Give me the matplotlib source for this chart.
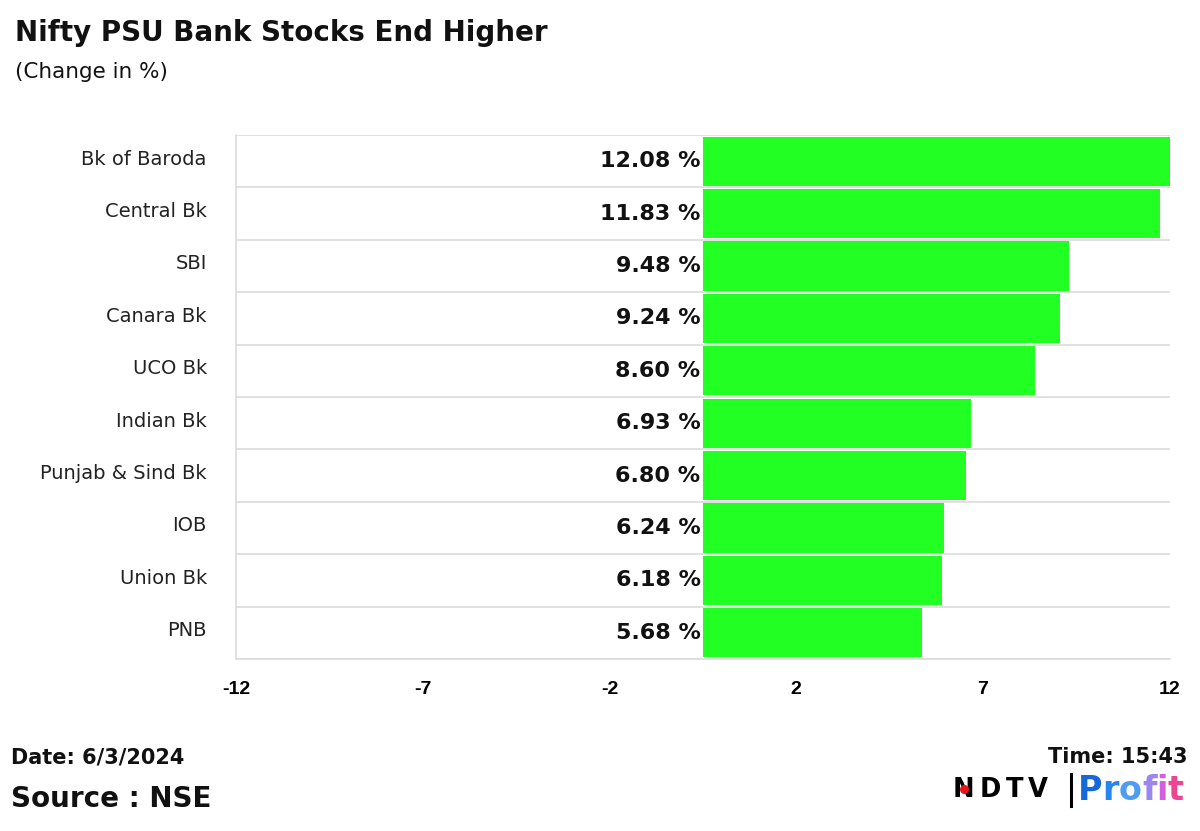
import matplotlib.pyplot as plt
import numpy as np
from matplotlib.transforms import ScaledTranslation

banks = ["Bk of Baroda", "Central Bk", "SBI", "Canara Bk", "UCO Bk",
         "Indian Bk", "Punjab & Sind Bk", "IOB", "Union Bk", "PNB"]
change = [12.08, 11.83, 9.48, 9.24, 8.60, 6.93, 6.80, 6.24, 6.18, 5.68]

plt.rcParams['font.family'] = ['DejaVu Sans']

fig = plt.figure(figsize=(12, 8.31), dpi=100)
ax = fig.add_axes([0.1967, 0.207, 0.778, 0.6306])

y = np.arange(len(banks))
ax.barh(y, change, height=0.94, color='#22ff22', zorder=2)

lim = max(change)
ax.set_xlim(-lim, lim)
ax.set_ylim(len(banks) - 0.5, -0.5)

# value labels sit just left of zero
for yi, v in zip(y, change):
    ax.text(-0.06, yi, f"{v:.2f} %", ha='right', va='center',
            fontsize=16, fontweight='bold', color='#111111', zorder=3)

# category boundaries as grid
for b in np.arange(-0.5, len(banks), 1.0):
    ax.axhline(b, color='#dcdcdc', lw=1.2, zorder=1)

ticks = np.linspace(-lim, lim, 6)
ax.set_xticks(ticks)
ax.set_xticklabels([f"{t:.0f}" for t in ticks], fontsize=14, fontweight='bold',
                   family=['Liberation Sans', 'DejaVu Sans'])
ax.set_yticks(y)
ax.set_yticklabels(banks, fontsize=14, color='#222222')
ax.tick_params(axis='y', length=0, pad=21)
ax.tick_params(axis='x', length=0, pad=16)
up = ScaledTranslation(0, 4 / 100, fig.dpi_scale_trans)
for lbl in ax.get_yticklabels():
    lbl.set_transform(lbl.get_transform() + up)

for s in ['top', 'right']:
    ax.spines[s].set_visible(False)
ax.spines['left'].set_color('#dcdcdc')
ax.spines['bottom'].set_color('#dcdcdc')
ax.spines['left'].set_linewidth(1.2)
ax.spines['bottom'].set_linewidth(1.2)

fig.text(0.0125, 0.96, "Nifty PSU Bank Stocks End Higher", fontsize=20,
         fontweight='bold', va='center', color='#111111')
fig.text(0.0125, 0.913, "(Change in %)", fontsize=15.5, va='center', color='#111111')

fig.text(0.0095, 0.089, "Date: 6/3/2024", fontsize=15, fontweight='bold',
         va='center', color='#111111')
fig.text(0.0095, 0.038, "Source : NSE", fontsize=20, fontweight='bold',
         va='center', color='#111111')
fig.text(0.99, 0.089, "Time: 15:43", fontsize=15, fontweight='bold',
         va='center', ha='right', color='#111111')

# NDTV | Profit logo
fig.canvas.draw()
r = fig.canvas.get_renderer()
x = 0.7942
n_box = None
for ch in "NDTV":
    t = fig.text(x, 0.049, ch, fontsize=18.5, fontweight='heavy', va='center',
                 color='black')
    bb = t.get_window_extent(r)
    if n_box is None:
        n_box = bb
    x = bb.x1 / 1200 + 0.004
fig.add_artist(plt.Line2D([(n_box.x0 + n_box.x1) / 2400], [0.0505], marker='o',
                          markersize=5.5, color='#e8141c', lw=0,
                          transform=fig.transFigure, zorder=5))
fig.add_artist(plt.Line2D([0.8925, 0.8925], [0.03, 0.069], color='black', lw=2.2))

profit_cols = ['#1668dc', '#2486ee', '#4f9cf2', '#9a86ee', '#d45ee0', '#ee4590']
x = 0.8985
for ch, c in zip("Profit", profit_cols):
    t = fig.text(x, 0.049, ch, fontsize=24, fontweight='bold', va='center', color=c)
    x = t.get_window_extent(r).x1 / 1200

fig.savefig("out.png", dpi=100, facecolor='white')
